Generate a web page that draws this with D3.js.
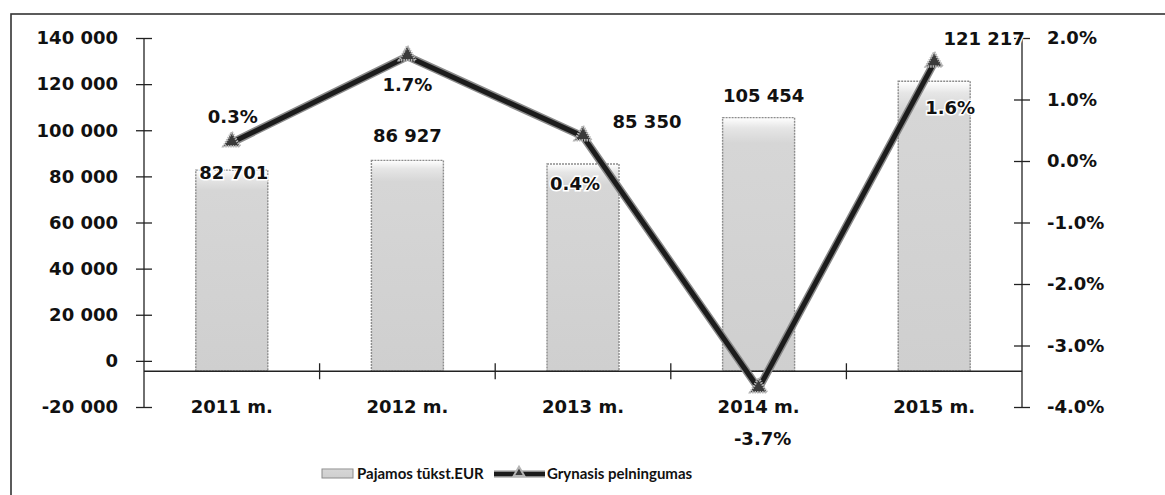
<!DOCTYPE html>
<html>
<head>
<meta charset="utf-8">
<script src="https://cdn.jsdelivr.net/npm/d3@7"></script>
<style>
    body { margin: 0; background: #fff; }
    svg text { font-family: "DejaVu Sans", Lato, sans-serif; font-weight: bold; fill: #111; }
    svg text.legend { font-family: Lato, "DejaVu Sans", sans-serif; }
</style>
</head>
<body>
<div id="chart"></div>
<script>
var years = ["2011 m.", "2012 m.", "2013 m.", "2014 m.", "2015 m."];
var pajamos = [82701, 86927, 85350, 105454, 121217];
var pelningumas = [0.3, 1.7, 0.4, -3.7, 1.6];
var leftTicks = [140000, 120000, 100000, 80000, 60000, 40000, 20000, 0, -20000];
var rightTicks = [2, 1, 0, -1, -2, -3, -4];
var seriesNames = ["Pajamos tūkst.EUR", "Grynasis pelningumas"];

// label offsets (px) from the mark
var barLabelOffset = [[2, 3], [0, -25], [64, -42], [5, -22], [50, -43]];
var lineLabelOffset = [[1, -26], [0, 28], [-8, 47], [4, 50], [16, 45]];

var width = 1165, height = 495;
var plot = {left: 144, right: 1022, top: 38, bottom: 407};
var axisCross = -4500; // horizontal axis crosses the value axis slightly below 0

var svg = d3.select("#chart").append("svg")
    .attr("width", width)
    .attr("height", height);

var defs = svg.append("defs");
var grad = defs.append("linearGradient").attr("id", "barGrad")
    .attr("x1", 0).attr("y1", 0).attr("x2", 0).attr("y2", 1);
grad.append("stop").attr("offset", "0%").attr("stop-color", "#ffffff");
grad.append("stop").attr("offset", "4%").attr("stop-color", "#e6e6e6");
grad.append("stop").attr("offset", "10%").attr("stop-color", "#d6d6d6");
grad.append("stop").attr("offset", "100%").attr("stop-color", "#cfcfcf");

// chart frame (runs off the page right and bottom)
svg.append("rect")
    .attr("x", 11).attr("y", 14)
    .attr("width", 1200).attr("height", 520)
    .attr("fill", "none").attr("stroke", "#333").attr("stroke-width", 1.6);

var x = d3.scaleBand().domain(years).range([plot.left, plot.right]).paddingInner(0.59).paddingOuter(0.295);
var xb = d3.scaleBand().domain(years).range([plot.left, plot.right]);
var yL = d3.scaleLinear().domain([-20000, 140000]).range([plot.bottom, plot.top]);
var yR = d3.scaleLinear().domain([-4, 2]).range([plot.bottom, plot.top]);

var fmtNum = function (v) { return d3.format(",")(v).replace(/,/g, " ").replace("\u2212", "-"); };
var fmtPct = function (v) { return d3.format(".1f")(v).replace("\u2212", "-") + "%"; };

// bars
svg.append("g").selectAll("rect")
    .data(pajamos)
    .join("rect")
    .attr("x", function (d, i) { return x(years[i]); })
    .attr("y", function (d) { return yL(d); })
    .attr("width", x.bandwidth())
    .attr("height", function (d) { return yL(axisCross) - yL(d); })
    .attr("fill", "url(#barGrad)")
    .attr("stroke", "#8c8c8c")
    .attr("stroke-width", 1.4)
    .attr("stroke-dasharray", "2,1");

// left axis
var gL = svg.append("g").attr("transform", "translate(" + plot.left + ",0)")
    .call(d3.axisLeft(yL).tickValues(leftTicks).tickSize(8).tickPadding(18).tickFormat(fmtNum));
gL.selectAll(".tick line").attr("x1", 8).attr("stroke", "#222").attr("stroke-width", 1.3);
gL.select(".domain").attr("stroke", "#222").attr("stroke-width", 1.3).attr("d", "M0," + plot.top + "V" + plot.bottom);
gL.selectAll("text").style("font-size", "18px");

// right axis
var gR = svg.append("g").attr("transform", "translate(" + plot.right + ",0)")
    .call(d3.axisRight(yR).tickValues(rightTicks).tickSize(8).tickPadding(17).tickFormat(fmtPct));
gR.selectAll(".tick line").attr("x1", -8).attr("stroke", "#222").attr("stroke-width", 1.3);
gR.select(".domain").attr("stroke", "#222").attr("stroke-width", 1.3).attr("d", "M0," + plot.top + "V" + plot.bottom);
gR.selectAll("text").style("font-size", "18px");

// category axis
var axisY = yL(axisCross);
var gX = svg.append("g").attr("transform", "translate(0," + axisY + ")");
gX.append("line").attr("x1", plot.left).attr("x2", plot.right)
    .attr("stroke", "#222").attr("stroke-width", 1.3);
gX.selectAll(".cat-tick")
    .data(years.slice(1))
    .join("line")
    .attr("class", "cat-tick")
    .attr("x1", function (d) { return xb(d); })
    .attr("x2", function (d) { return xb(d); })
    .attr("y1", -8).attr("y2", 8)
    .attr("stroke", "#222").attr("stroke-width", 1.3);
gX.selectAll(".cat-label")
    .data(years)
    .join("text")
    .attr("class", "cat-label")
    .attr("x", function (d) { return xb(d) + xb.bandwidth() / 2; })
    .attr("y", 42)
    .attr("text-anchor", "middle")
    .style("font-size", "18px")
    .text(function (d) { return d; });

// line
var cx = function (i) { return xb(years[i]) + xb.bandwidth() / 2; };
var line = d3.line()
    .x(function (d, i) { return cx(i); })
    .y(function (d) { return yR(d); });
svg.append("path").datum(pelningumas)
    .attr("d", line).attr("fill", "none")
    .attr("stroke", "#8a8a8a").attr("stroke-width", 8).attr("stroke-linejoin", "round");
svg.append("path").datum(pelningumas)
    .attr("d", line).attr("fill", "none")
    .attr("stroke", "#1c1c1c").attr("stroke-width", 5).attr("stroke-linejoin", "round");

// triangle markers
var tri = d3.symbol().type(d3.symbolTriangle).size(120);
svg.append("g").selectAll("path")
    .data(pelningumas)
    .join("path")
    .attr("d", tri)
    .attr("transform", function (d, i) { return "translate(" + cx(i) + "," + (yR(d) - 1) + ")"; })
    .attr("fill", "#3a3a3a")
    .attr("stroke", "#b5b5b5")
    .attr("stroke-width", 2.5)
    .attr("stroke-dasharray", "1.5,1");

// bar value labels
svg.append("g").selectAll("text")
    .data(pajamos)
    .join("text")
    .attr("x", function (d, i) { return cx(i) + barLabelOffset[i][0]; })
    .attr("y", function (d, i) { return yL(d) + barLabelOffset[i][1]; })
    .attr("dy", "0.35em")
    .attr("text-anchor", "middle")
    .style("font-size", "18px")
    .style("paint-order", "stroke")
    .style("stroke", "#fff").style("stroke-width", "3px")
    .text(fmtNum);

// line value labels
svg.append("g").selectAll("text")
    .data(pelningumas)
    .join("text")
    .attr("x", function (d, i) { return cx(i) + lineLabelOffset[i][0]; })
    .attr("y", function (d, i) { return yR(d) + lineLabelOffset[i][1]; })
    .attr("dy", "0.35em")
    .attr("text-anchor", "middle")
    .style("font-size", "18px")
    .style("paint-order", "stroke")
    .style("stroke", "#fff").style("stroke-width", "3px")
    .text(fmtPct);

// legend
var lg = svg.append("g").attr("transform", "translate(0,474)");
lg.append("rect").attr("x", 322).attr("y", -5).attr("width", 31).attr("height", 9)
    .attr("fill", "url(#barGrad)").attr("stroke", "#8c8c8c").attr("stroke-width", 1);
lg.append("text").attr("class", "legend").attr("x", 357).attr("y", 0).attr("dy", "0.35em")
    .style("font-size", "15px").text(seriesNames[0]);
lg.append("line").attr("x1", 494).attr("x2", 545).attr("y1", 0).attr("y2", 0)
    .attr("stroke", "#8a8a8a").attr("stroke-width", 7);
lg.append("line").attr("x1", 494).attr("x2", 545).attr("y1", 0).attr("y2", 0)
    .attr("stroke", "#1c1c1c").attr("stroke-width", 4);
lg.append("path").attr("d", d3.symbol().type(d3.symbolTriangle).size(50))
    .attr("transform", "translate(519,-1)")
    .attr("fill", "#3a3a3a").attr("stroke", "#b5b5b5").attr("stroke-width", 2);
lg.append("text").attr("class", "legend").attr("x", 547).attr("y", 0).attr("dy", "0.35em")
    .style("font-size", "15px").text(seriesNames[1]);
</script>
</body>
</html>
